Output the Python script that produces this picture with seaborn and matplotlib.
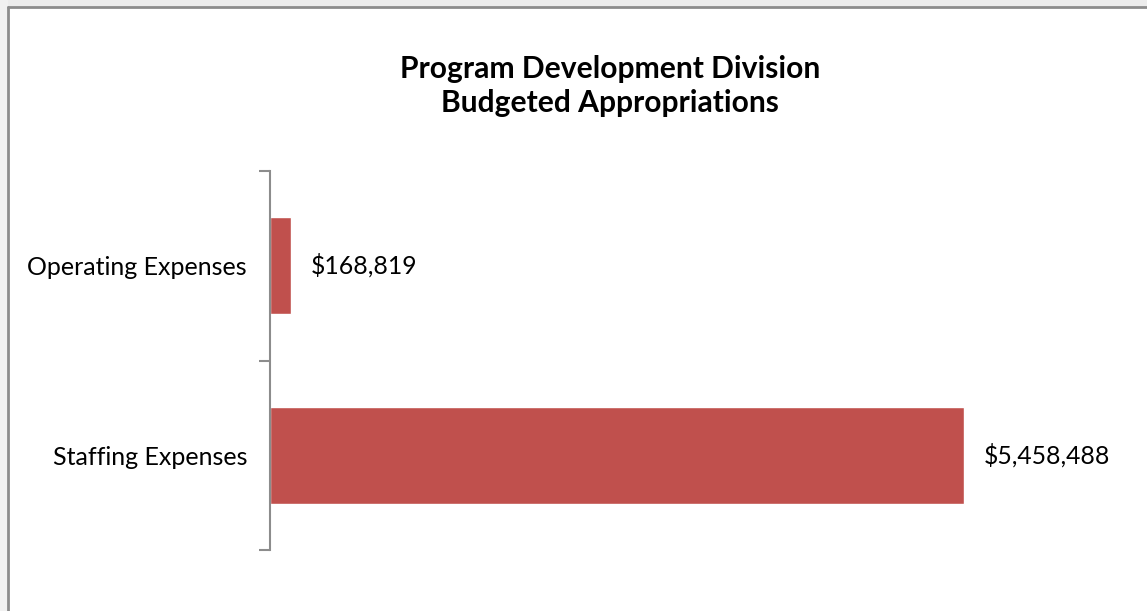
import pandas as pd
import matplotlib.pyplot as plt
import seaborn as sns
from matplotlib.patches import Rectangle
from matplotlib.lines import Line2D

# chart values
categories = ['Operating Expenses', 'Staffing Expenses']
amounts = [168819, 5458488]
value_labels = ['$168,819', '$5,458,488']

df = pd.DataFrame({'category': categories, 'amount': amounts})

sns.set_theme(style='white')
plt.rcParams['font.family'] = ['Lato', 'DejaVu Sans']
plt.rcParams['text.color'] = 'black'

fig = plt.figure(figsize=(11.47, 6.11), dpi=100)
fig.patch.set_facecolor('white')

# faint grey strip outside the chart frame (top and left)
fig.add_artist(Rectangle((0, 1 - 7 / 611), 1, 7 / 611, transform=fig.transFigure,
                         facecolor='#ececec', edgecolor='none', zorder=0))
fig.add_artist(Rectangle((0, 0), 8 / 1147, 1, transform=fig.transFigure,
                         facecolor='#f1f1f1', edgecolor='none', zorder=0))
# chart frame lines
fig.add_artist(Line2D([8 / 1147, 8 / 1147], [0, 1 - 7 / 611], transform=fig.transFigure,
                      color='#8c8c8c', lw=2))
fig.add_artist(Line2D([8 / 1147, 1], [1 - 7 / 611, 1 - 7 / 611], transform=fig.transFigure,
                      color='#8c8c8c', lw=2))

ax = fig.add_axes([270 / 1147, 1 - 550 / 611, (1100 - 270) / 1147, (550 - 171) / 611])
sns.barplot(data=df, x='amount', y='category', orient='h', color='#C0504D',
            saturation=1, width=0.51, ax=ax)

ax.set_xlim(0, (1100 - 270) * 5458488 / 694)
ax.set_ylim(1.5, -0.5)
ax.set_xlabel('')
ax.set_ylabel('')
ax.set_xticks([])

# y ticks on category boundaries, labels centred on bars
ax.set_yticks([-0.5, 0.5, 1.5])
ax.set_yticklabels([])
ax.set_yticks([0, 1], minor=True)
ax.set_yticklabels(categories, minor=True, fontsize=18, color='black')
ax.tick_params(axis='y', which='major', length=8, width=1.5, color='#8c8c8c', left=True)
ax.tick_params(axis='y', which='minor', length=0, pad=16.5)

for side in ['top', 'right', 'bottom']:
    ax.spines[side].set_visible(False)
ax.spines['left'].set_color('#8c8c8c')
ax.spines['left'].set_linewidth(1.5)

for i, (v, lab) in enumerate(zip(amounts, value_labels)):
    ax.annotate(lab, xy=(v, i), xytext=(14, 0), textcoords='offset points',
                va='center', ha='left', fontsize=17.8, color='black')

fig.text(610 / 1147, 1 - 86 / 611, 'Program Development Division\nBudgeted Appropriations',
         ha='center', va='center', fontsize=21.6, fontweight='bold', color='black',
         linespacing=1.25)

fig.savefig('out.png', dpi=100)
